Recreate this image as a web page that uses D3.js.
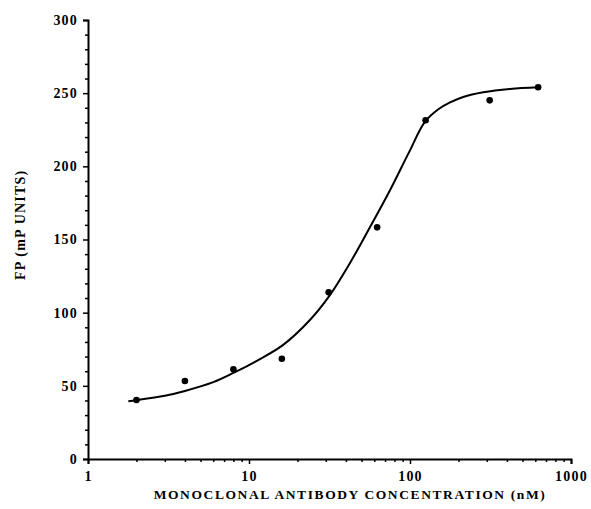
<!DOCTYPE html>
<html>
<head>
<meta charset="utf-8">
<script src="https://cdn.jsdelivr.net/npm/d3@7"></script>
<style>
    body { margin: 0; background: #fff; }
    svg { display: block; }
    text { font-family: "Liberation Serif", "Times New Roman", serif; font-weight: bold; fill: #000; }
</style>
</head>
<body>
<div id="chart"></div>
<script>
'use strict';

// measured points (nM, mP)
const concentrations = [2, 4, 8, 16, 31.25, 62.5, 125, 312.5, 625];
const fpValues = [40.3, 53.3, 61.3, 68.5, 113.9, 158.3, 231.5, 245.1, 254];

// fitted curve
const curveX = [1.78, 2, 3, 4, 6, 8, 11.7, 16.3, 23.9, 31.8, 42.4, 56.6, 75.4, 98, 124, 150, 176, 214, 285, 418, 627];
const curveY = [39.5, 40.2, 43.2, 46.5, 52.5, 58.8, 68.3, 78, 95, 112, 134, 158.7, 184, 209, 230.5, 239, 243.5, 247.4, 250.6, 252.9, 254];

const xTicks = [1, 10, 100, 1000];
const yTicks = [0, 50, 100, 150, 200, 250, 300];

const xLabel = "MONOCLONAL ANTIBODY CONCENTRATION (nM)";
const yLabel = "FP (mP UNITS)";

const W = 591, H = 509;
const margin = { top: 20, right: 20, bottom: 50, left: 88 };
const width = W - margin.left - margin.right,
    height = H - margin.top - margin.bottom;

const svg = d3.select("#chart").append("svg")
    .attr("width", W)
    .attr("height", H);

const g = svg.append("g")
    .attr("transform", "translate(" + margin.left + "," + margin.top + ")");

const xScale = d3.scaleLog().domain([1, 1000]).range([0, width]);
const yScale = d3.scaleLinear().domain([0, 300]).range([height, 0]);

// minor ticks first, majors on top
const xMinor = [];
[1, 10, 100].forEach(dec => {
    for (let k = 2; k <= 9; k++) xMinor.push(dec * k);
});
const yMinor = d3.range(0, 301, 10).filter(v => v % 50 !== 0);

const xAxisMinor = d3.axisBottom(xScale).tickValues(xMinor).tickSize(3).tickFormat("");
const xAxis = d3.axisBottom(xScale).tickValues(xTicks).tickSize(5).tickPadding(7)
    .tickFormat(d3.format("d"));

const yAxisMinor = d3.axisLeft(yScale).tickValues(yMinor).tickSize(3).tickFormat("");
const yAxis = d3.axisLeft(yScale).tickValues(yTicks).tickSize(5).tickPadding(5);

g.append("g")
    .attr("class", "x axis minor")
    .attr("transform", "translate(0," + height + ")")
    .call(xAxisMinor);

g.append("g")
    .attr("class", "x axis")
    .attr("transform", "translate(0," + height + ")")
    .call(xAxis);

g.append("g")
    .attr("class", "y axis minor")
    .call(yAxisMinor);

g.append("g")
    .attr("class", "y axis")
    .call(yAxis);

g.selectAll(".axis path.domain").attr("stroke", "#000").attr("stroke-width", 2);
g.selectAll(".axis .tick line").attr("stroke", "#000").attr("stroke-width", 1.5);
g.selectAll(".minor path.domain").remove();
g.selectAll(".axis text")
    .style("font-size", "14px")
    .style("letter-spacing", "1.2px")
    .attr("fill", "#000");

// x-axis label
g.append("text")
    .attr("x", 262)
    .attr("y", height + 40)
    .attr("text-anchor", "middle")
    .style("font-size", "13.5px")
    .style("letter-spacing", "1.6px")
    .text(xLabel);

// y-axis label
g.append("text")
    .attr("transform", "translate(" + (-63) + "," + yScale(160) + ") rotate(-90)")
    .attr("text-anchor", "middle")
    .style("font-size", "14px")
    .style("letter-spacing", "1.2px")
    .text(yLabel);

// fitted line
const line = d3.line()
    .curve(d3.curveCatmullRom.alpha(0.5))
    .x(d => xScale(d[0]))
    .y(d => yScale(d[1]));

g.append("path")
    .datum(d3.zip(curveX, curveY))
    .attr("class", "line")
    .attr("fill", "none")
    .attr("stroke", "#000")
    .attr("stroke-width", 2)
    .attr("d", line);

// data points
g.selectAll("circle.point")
    .data(d3.zip(concentrations, fpValues))
    .enter()
    .append("circle")
    .attr("class", "point")
    .attr("cx", d => xScale(d[0]))
    .attr("cy", d => yScale(d[1]))
    .attr("r", 3.3)
    .attr("fill", "#000");
</script>
</body>
</html>
